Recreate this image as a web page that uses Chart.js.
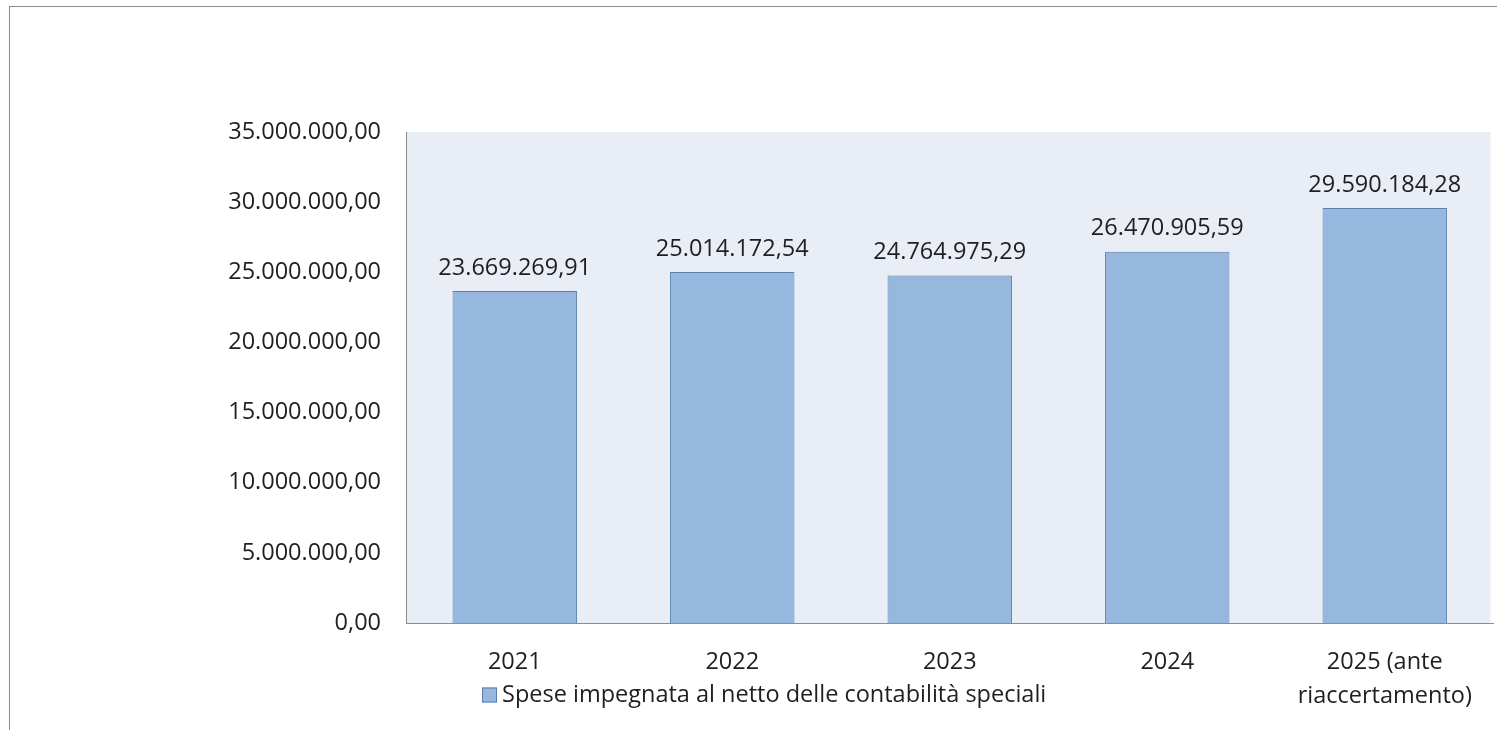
<!DOCTYPE html>
<html>
<head>
<meta charset="utf-8">
<script src="https://cdn.jsdelivr.net/npm/chart.js@4.4.1/dist/chart.umd.min.js"></script>
<style>
  html, body { margin: 0; padding: 0; background: #fff; overflow: hidden; }
  #frame { position: absolute; left: 9px; top: 6px; width: 1500px; height: 740px; border: 1px solid #8c8c8c; box-sizing: border-box; }
  #wrap { position: absolute; left: 0; top: 0; width: 1497px; height: 730px; }
</style>
</head>
<body>
<div id="frame"></div>
<div id="wrap"><canvas id="c" width="1497" height="730"></canvas></div>
<script>
const categories = ["2021", "2022", "2023", "2024", ["2025 (ante", "riaccertamento)"]];
const seriesLabel = "Spese impegnata al netto delle contabilità speciali";
const seriesValues = [23669269.91, 25014172.54, 24764975.29, 26470905.59, 29590184.28];
const yMin = 0, yMax = 35000000, yStep = 5000000;

const FONT = "'Open Sans', sans-serif";
const FS = 23.5;

function fmtIt(v) {
  const neg = v < 0; v = Math.abs(v);
  const fixed = v.toFixed(2);
  let [ip, dp] = fixed.split('.');
  ip = ip.replace(/\B(?=(\d{3})+(?!\d))/g, '.');
  return (neg ? '-' : '') + ip + ',' + dp;
}

const bgPlugin = {
  id: 'plotBg',
  beforeDraw(chart) {
    const {ctx, chartArea: a} = chart;
    ctx.save();
    ctx.fillStyle = '#E9EDF5';
    ctx.fillRect(a.left, a.top, a.right - a.left - 3, a.bottom - a.top);
    ctx.restore();
  }
};

const labelPlugin = {
  id: 'valueLabels',
  afterDatasetsDraw(chart) {
    const {ctx} = chart;
    const meta = chart.getDatasetMeta(0);
    ctx.save();
    ctx.font = FS + 'px ' + FONT;
    ctx.fillStyle = '#1f1f1f';
    ctx.textAlign = 'center';
    ctx.textBaseline = 'middle';
    meta.data.forEach((el, i) => {
      ctx.fillText(fmtIt(chart.data.datasets[0].data[i]), el.x, el.y - 23);
    });
    ctx.restore();
  }
};

const legendPlugin = {
  id: 'customLegend',
  afterDraw(chart) {
    const {ctx} = chart;
    const ds = chart.data.datasets[0];
    ctx.save();
    ctx.font = FS + 'px ' + FONT;
    const y = 695;
    const boxX = 482, boxS = 15;
    ctx.fillStyle = ds.backgroundColor;
    ctx.fillRect(boxX, y - boxS / 2, boxS, boxS);
    ctx.strokeStyle = ds.borderColor;
    ctx.lineWidth = 1;
    ctx.strokeRect(boxX + 0.5, y - boxS / 2 + 0.5, boxS - 1, boxS - 1);
    ctx.fillStyle = '#1f1f1f';
    ctx.textAlign = 'left';
    ctx.textBaseline = 'middle';
    ctx.fillText(ds.label, boxX + boxS + 5, y);
    ctx.restore();
  }
};

new Chart(document.getElementById('c'), {
  type: 'bar',
  data: {
    labels: categories,
    datasets: [{
      label: seriesLabel,
      data: seriesValues,
      backgroundColor: '#97B8DE',
      borderColor: '#5A7FAA',
      borderWidth: 1,
      categoryPercentage: 1,
      barPercentage: 0.572
    }]
  },
  options: {
    responsive: false,
    animation: false,
    layout: { padding: { left: 0, right: 3.5, top: 132, bottom: 0 } },
    plugins: { legend: { display: false }, tooltip: { enabled: false } },
    scales: {
      x: {
        grid: { display: false, drawTicks: false },
        border: { display: true, color: '#8c8c8c', width: 1 },
        ticks: {
          color: '#1f1f1f',
          font: { family: FONT, size: FS, lineHeight: 1.45 },
          padding: 22,
          maxRotation: 0,
          autoSkip: false
        },
        afterFit(scale) { scale.height = 107; }
      },
      y: {
        min: yMin, max: yMax,
        grid: { display: false, drawTicks: false },
        border: { display: true, color: '#8c8c8c', width: 1 },
        ticks: {
          stepSize: yStep,
          color: '#1f1f1f',
          font: { family: FONT, size: FS },
          padding: 25,
          callback: (v) => fmtIt(v)
        },
        afterFit(scale) { scale.width = 406; }
      }
    }
  },
  plugins: [bgPlugin, labelPlugin, legendPlugin]
});
</script>
</body>
</html>
